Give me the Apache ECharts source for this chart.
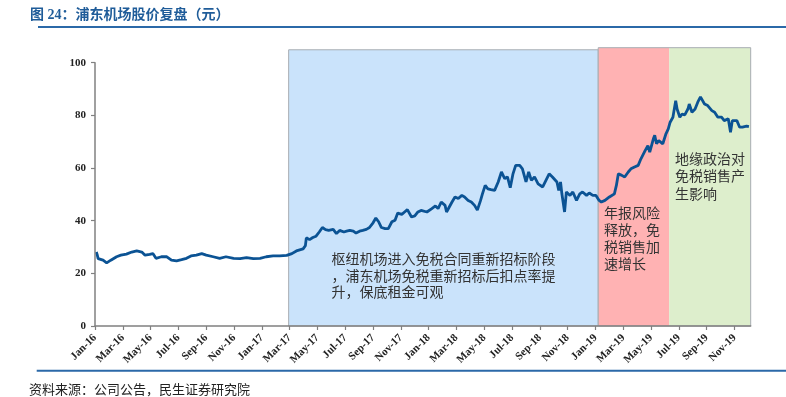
<!DOCTYPE html>
<html>
<head>
<meta charset="utf-8">
<script src="https://cdn.jsdelivr.net/npm/echarts@6/dist/echarts.min.js"></script>
<style>
  html, body { margin: 0; padding: 0; background: #fff; }
  #chart { width: 786px; height: 397px; }
</style>
</head>
<body>
<div id="chart"></div>
<script>
// 浦东机场股价（元）
const dates = [
  '2016-01-04','2016-01-06','2016-01-08','2016-01-19','2016-01-22','2016-01-27','2016-02-05','2016-02-17','2016-02-26',
  '2016-03-09','2016-03-21','2016-04-01','2016-04-12','2016-04-19','2016-04-29','2016-05-06','2016-05-13','2016-05-25',
  '2016-06-06','2016-06-16','2016-06-27','2016-07-08','2016-07-19','2016-07-29','2016-08-10','2016-08-22','2016-09-01',
  '2016-09-16','2016-09-30','2016-10-14','2016-10-31','2016-11-14','2016-11-28','2016-12-13','2016-12-28',
  '2017-01-11','2017-01-26','2017-02-09','2017-02-23','2017-03-06','2017-03-16','2017-03-31','2017-04-05','2017-04-07',
  '2017-04-14','2017-04-21','2017-04-28','2017-05-05','2017-05-12','2017-05-19','2017-05-26','2017-06-05','2017-06-12',
  '2017-06-19','2017-06-28','2017-07-04','2017-07-11','2017-07-19','2017-07-25','2017-08-02','2017-08-09','2017-08-17',
  '2017-08-24','2017-09-01','2017-09-07','2017-09-13','2017-09-19','2017-09-27','2017-10-04','2017-10-12','2017-10-19',
  '2017-10-25','2017-11-03','2017-11-09','2017-11-15','2017-11-24','2017-12-01','2017-12-08','2017-12-15','2017-12-28',
  '2018-01-08','2018-01-16','2018-01-22','2018-01-29','2018-02-06','2018-02-09','2018-02-13','2018-02-20','2018-02-26',
  '2018-03-05','2018-03-13','2018-03-19','2018-03-27','2018-04-03','2018-04-10','2018-04-16','2018-04-23','2018-04-27',
  '2018-05-03','2018-05-09','2018-05-16','2018-05-24','2018-06-01','2018-06-08','2018-06-15','2018-06-21','2018-06-27',
  '2018-07-03','2018-07-09','2018-07-18','2018-07-24','2018-08-01','2018-08-07','2018-08-13','2018-08-20','2018-08-28',
  '2018-09-07','2018-09-14','2018-09-21','2018-09-28','2018-10-08','2018-10-12','2018-10-16','2018-10-19','2018-10-25',
  '2018-10-29','2018-11-06','2018-11-12','2018-11-20','2018-11-27','2018-12-03','2018-12-12','2018-12-18','2018-12-26',
  '2019-01-02','2019-01-04','2019-01-09','2019-01-14','2019-01-18','2019-01-22','2019-02-01','2019-02-11','2019-02-15',
  '2019-02-19','2019-02-26','2019-03-04','2019-03-12','2019-03-18','2019-03-26','2019-04-03','2019-04-09','2019-04-18',
  '2019-04-24','2019-04-28','2019-05-06','2019-05-09','2019-05-13','2019-05-18','2019-05-27','2019-06-03','2019-06-08',
  '2019-06-12','2019-06-18','2019-06-24','2019-06-27','2019-07-03','2019-07-08','2019-07-14','2019-07-21','2019-07-24',
  '2019-07-30','2019-08-06','2019-08-12','2019-08-18','2019-08-27','2019-09-03','2019-09-12','2019-09-18','2019-09-25',
  '2019-10-03','2019-10-09','2019-10-18','2019-10-23','2019-10-27','2019-11-06','2019-11-12','2019-11-18','2019-11-27',
  '2019-12-02'
];
const prices = [
  28.1, 27.0, 25.6, 25.0, 25.6, 24.0, 25.0, 26.3, 26.9,
  27.3, 28.1, 28.5, 28.1, 26.9, 27.2, 27.5, 25.7, 26.3,
  26.3, 25.0, 24.7, 25.2, 25.7, 26.6, 26.9, 27.5, 26.9,
  26.3, 25.7, 26.3, 25.7, 25.6, 26.0, 25.6, 25.7,
  26.3, 26.6, 26.6, 26.8, 27.5, 28.5, 29.3, 30.5, 33.5,
  32.8, 33.6, 34.1, 35.7, 37.4, 36.6, 36.3, 36.7, 35.1,
  36.3, 35.7, 36.0, 36.3, 36.0, 35.3, 36.0, 36.3, 36.7,
  37.4, 39.2, 41.0, 39.6, 37.4, 37.0, 37.0, 39.6, 40.2,
  42.9, 42.4, 43.3, 44.2, 41.4, 41.8, 43.3, 43.9, 43.3,
  44.6, 45.6, 44.6, 47.1, 45.8, 43.3, 43.9, 47.1, 49.0,
  48.4, 49.6, 49.0, 47.7, 47.1, 45.8, 44.0, 47.7, 50.2,
  53.4, 52.1, 51.8, 51.5, 54.7, 58.5, 56.0, 56.6, 52.5,
  57.8, 61.0, 61.0, 59.7, 54.7, 58.5, 55.3, 56.6, 54.0,
  52.8, 55.3, 57.8, 56.6, 54.7, 51.5, 54.7, 50.2, 43.3,
  50.9, 49.6, 50.9, 47.7, 50.2, 50.9, 49.6, 50.5, 49.6,
  49.6, 49.0, 47.7, 47.1, 47.1, 47.7, 49.0, 50.2, 53.4,
  57.8, 57.2, 56.6, 58.5, 59.7, 60.4, 61.0, 63.5, 66.6,
  68.5, 66.0, 71.1, 72.4, 69.2, 70.4, 69.2, 73.0, 74.9,
  77.4, 79.3, 85.6, 82.4, 79.3, 80.5, 80.2, 82.4, 84.3,
  81.2, 82.4, 85.0, 87.0, 84.3, 83.7, 81.8, 81.2, 79.3,
  79.3, 78.0, 78.7, 73.6, 78.0, 78.0, 75.5, 75.5, 75.9,
  75.7
];
const monthLabels = ['Jan-16','Mar-16','May-16','Jul-16','Sep-16','Nov-16','Jan-17','Mar-17','May-17','Jul-17','Sep-17','Nov-17',
  'Jan-18','Mar-18','May-18','Jul-18','Sep-18','Nov-18','Jan-19','Mar-19','May-19','Jul-19','Sep-19','Nov-19'];
const axisEnd = '2019-12-06';
// 三个阶段：起止日期
const phaseBlue = ['2017-02-27', '2019-01-07'];
const phasePink = ['2019-01-07', '2019-06-10'];
const phaseGreen = ['2019-06-10', '2019-12-06'];

// 日期 -> 自2016年1月起的月份（小数）
function monthPos(s) {
  const [y, m, d] = s.split('-').map(Number);
  const dim = new Date(y, m, 0).getDate();
  return (y - 2016) * 12 + (m - 1) + (d - 1) / dim;
}

const xMax = monthPos(axisEnd);
const tickVals = monthLabels.map((_, i) => i * 2);
const cjk = "'Noto Sans CJK SC', sans-serif";
const grey = '#a8adb3';

const chart = echarts.init(document.getElementById('chart'));
chart.setOption({
  animation: false,
  grid: [
    { left: 95, right: 35.3, top: 62.7, bottom: 71 },
    { left: 95, right: 35.3, top: 46.9, bottom: 71 }
  ],
  xAxis: [
    {
      type: 'value', gridIndex: 0, min: 0, max: xMax, z: 5,
      axisLine: { lineStyle: { color: '#808080', width: 1.5 } },
      axisTick: { show: true, length: 4, customValues: tickVals, lineStyle: { color: '#808080', width: 1.2 } },
      axisLabel: {
        customValues: tickVals, rotate: 45, margin: 10,
        color: '#222', fontFamily: "'Liberation Serif', serif", fontWeight: 'bold', fontSize: 11,
        formatter: v => monthLabels[Math.round(v / 2)] || ''
      },
      splitLine: { show: false }
    },
    { type: 'value', gridIndex: 1, min: 0, max: xMax, show: false }
  ],
  yAxis: [
    {
      type: 'value', gridIndex: 0, min: 0, max: 100, interval: 20, z: 5,
      axisLine: { show: true, lineStyle: { color: '#808080', width: 1.5 } },
      axisTick: { show: true, length: 4, lineStyle: { color: '#808080', width: 1.2 } },
      axisLabel: { color: '#222', fontFamily: "'Liberation Serif', serif", fontWeight: 'bold', fontSize: 11, margin: 9 },
      splitLine: { show: false }
    },
    { type: 'value', gridIndex: 1, min: 0, max: 106, show: false }
  ],
  series: [
    {
      type: 'line', xAxisIndex: 1, yAxisIndex: 1, z: 1,
      data: [[0, 0]], showSymbol: false, lineStyle: { width: 0 }, silent: true,
      markArea: {
        silent: true,
        data: [
          [{ xAxis: monthPos(phaseBlue[0]), yAxis: 0, itemStyle: { color: '#cae3fb', borderColor: grey, borderWidth: 1 } },
           { xAxis: monthPos(phaseBlue[1]), yAxis: 104.9 }],
          [{ xAxis: monthPos(phasePink[0]), yAxis: 0, itemStyle: { color: '#ffb2b3', borderWidth: 0 } },
           { xAxis: monthPos(phasePink[1]), yAxis: 105.7 }],
          [{ xAxis: monthPos(phaseGreen[0]), yAxis: 0, itemStyle: { color: '#ddeecc', borderWidth: 0 } },
           { xAxis: monthPos(phaseGreen[1]), yAxis: 105.7 }],
          [{ xAxis: monthPos(phasePink[0]), yAxis: 0, itemStyle: { color: 'rgba(0,0,0,0)', borderColor: grey, borderWidth: 1 } },
           { xAxis: monthPos(phaseGreen[1]), yAxis: 105.7 }]
        ]
      }
    },
    {
      type: 'line', xAxisIndex: 0, yAxisIndex: 0, z: 3,
      data: dates.map((d, i) => [monthPos(d), prices[i]]),
      showSymbol: false, smooth: false,
      lineStyle: { color: '#0b5394', width: 2.8 }
    }
  ],
  graphic: [
    { type: 'text', x: 30, y: 15, style: { text: '图 24：浦东机场股价复盘（元）', verticalAlign: 'middle',
      font: "bold 14px 'Liberation Serif', 'Noto Sans CJK SC', serif", fill: '#1f5c99' } },
    { type: 'line', shape: { x1: 38, y1: 27, x2: 786, y2: 27 }, style: { stroke: '#2b69a8', lineWidth: 2 } },
    { type: 'line', shape: { x1: 36.7, y1: 370.7, x2: 786, y2: 370.7 }, style: { stroke: '#2b69a8', lineWidth: 2 } },
    { type: 'text', x: 29, y: 389, style: { text: '资料来源：公司公告，民生证券研究院', verticalAlign: 'middle',
      font: '13px ' + cjk, fill: '#222' } },
    { type: 'text', x: 331.5, y: 250.5, z: 10, style: {
      text: '枢纽机场进入免税合同重新招标阶段\n，浦东机场免税重新招标后扣点率提\n升，保底租金可观',
      verticalAlign: 'top', lineHeight: 16.5, font: '14px ' + cjk, fill: '#333' } },
    { type: 'text', x: 604, y: 203.8, z: 10, style: {
      text: '年报风险\n释放，免\n税销售加\n速增长',
      verticalAlign: 'top', lineHeight: 17, font: '14px ' + cjk, fill: '#333' } },
    { type: 'text', x: 675, y: 149.8, z: 10, style: {
      text: '地缘政治对\n免税销售产\n生影响',
      verticalAlign: 'top', lineHeight: 17.5, font: '14px ' + cjk, fill: '#333' } }
  ]
});
</script>
</body>
</html>
